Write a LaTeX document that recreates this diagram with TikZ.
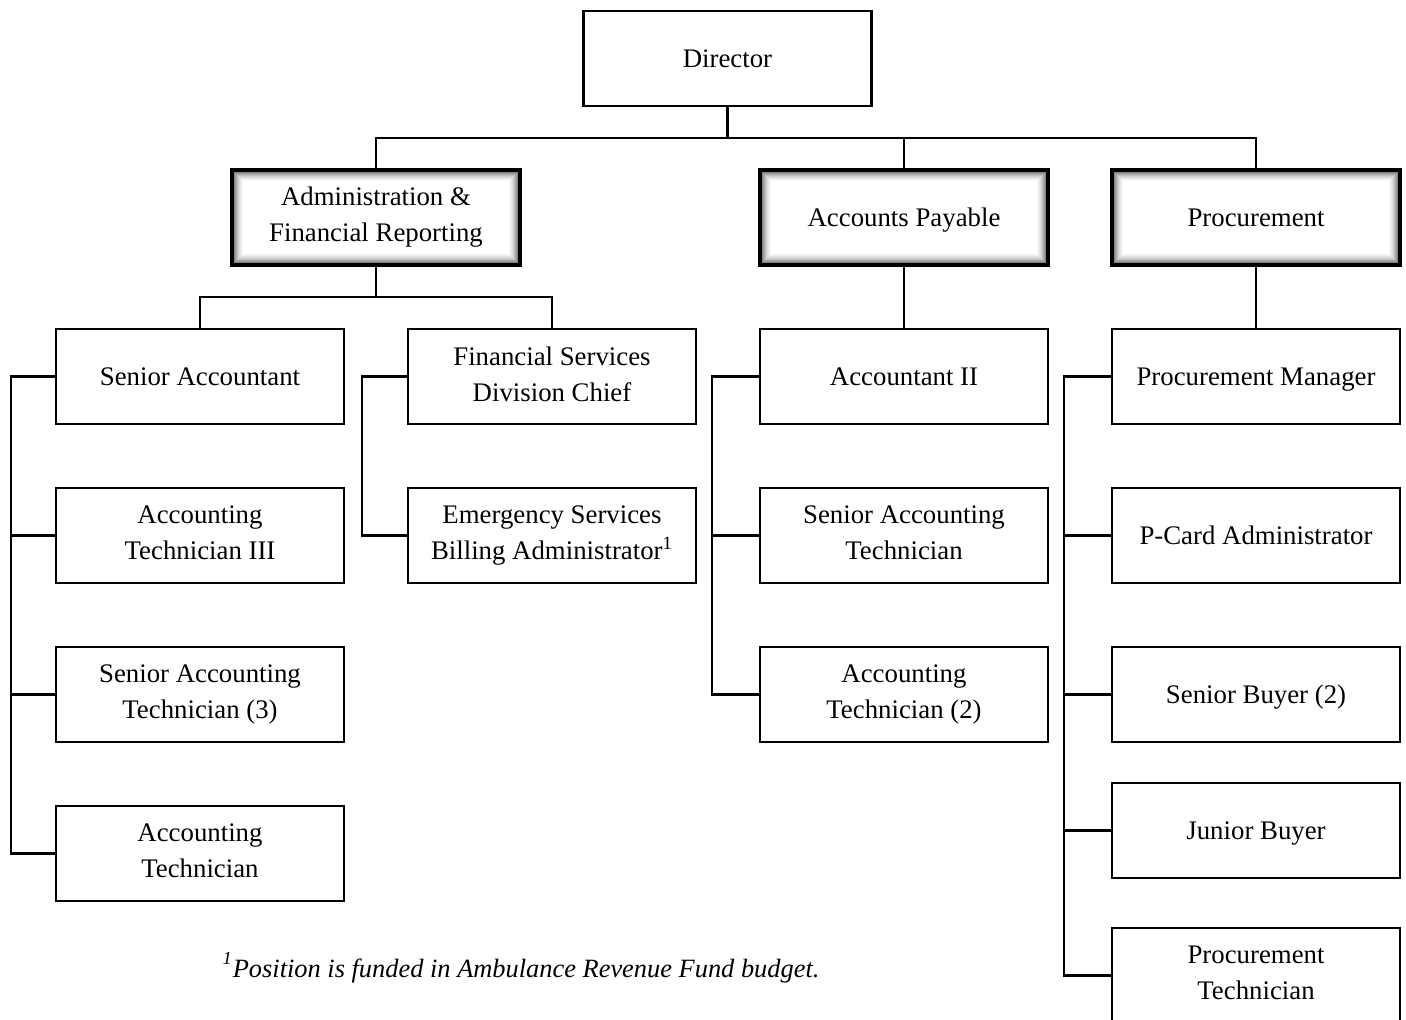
\documentclass[tikz,border=0pt]{standalone}
\usepackage{fontspec}
\setmainfont{Liberation Serif}
\usetikzlibrary{positioning,calc}

\tikzset{
    post/.style={draw, line width=1.4pt, fill=white, align=center,
        minimum width=144pt, minimum height=47.5pt, inner sep=2pt,
        font=\fontsize{13.4}{18}\selectfont,
        execute at begin node={\rule{0pt}{11.5pt}},
        execute at end node={\rule[-2.5pt]{0pt}{2.5pt}}},
    unit/.style={post, line width=1.9pt,
        path picture={
            \foreach \ins/\gv in {0.3/72,0.8/60,1.3/49,1.8/40,2.3/32,2.8/25,3.3/19,3.8/14,4.3/10,4.8/6,5.3/3}
                \draw[black!\gv, line width=0.55pt]
                    ([xshift=\ins pt,yshift=-\ins pt]path picture bounding box.north west) rectangle
                    ([xshift=-\ins pt,yshift=\ins pt]path picture bounding box.south east);
        }},
    link/.style={line width=1.4pt},
}

\begin{document}
\begin{tikzpicture}[x=0.5pt, y=-0.5pt]
    \clip (0,0) rectangle (1406,1019);
    % top
    \node[post] (dir) at (727.5,58.5) {Director};
    \node[unit] (admin) at (376,217.5) {Administration \&\\Financial Reporting};
    \node[unit] (ap) at (904,217.5) {Accounts Payable};
    \node[unit] (proc) at (1256,217.5) {Procurement};
    \coordinate (bus1) at (727.5,138);
    \draw[link] (dir.south) -- (bus1);
    \draw[link] (admin.north) |- (bus1) -| (proc.north);
    \draw[link] (ap.north) -- (ap.north |- bus1);
    % administration
    \node[post] (sracct) at (200,376.5) {Senior Accountant};
    \node[post] (fschief) at (552,376.5) {Financial Services\\Division Chief};
    \node[post] (tech3) at (200,535.5) {Accounting\\Technician III};
    \node[post] (esba) at (552,535.5) {Emergency Services\\Billing Administrator\textsuperscript{1}};
    \node[post] (srtech3) at (200,694.5) {Senior Accounting\\Technician (3)};
    \node[post] (tech) at (200,853.5) {Accounting\\Technician};
    \coordinate (bus2) at (376,297);
    \draw[link] (admin.south) -- (bus2);
    \draw[link] (sracct.north) |- (bus2) -| (fschief.north);
    \coordinate (spineA) at (11,376.5);
    \draw[link] (sracct.west) -- (spineA) |- (tech.west);
    \draw[link] (spineA) |- (tech3.west);
    \draw[link] (spineA) |- (srtech3.west);
    \coordinate (spineB) at (362,376.5);
    \draw[link] (fschief.west) -- (spineB) |- (esba.west);
    % accounts payable
    \node[post] (acct2) at (904,376.5) {Accountant II};
    \node[post] (srtech) at (904,535.5) {Senior Accounting\\Technician};
    \node[post] (tech2) at (904,694.5) {Accounting\\Technician (2)};
    \draw[link] (ap.south) -- (acct2.north);
    \coordinate (spineC) at (712,376.5);
    \draw[link] (acct2.west) -- (spineC) |- (tech2.west);
    \draw[link] (spineC) |- (srtech.west);
    % procurement
    \node[post] (pmgr) at (1256,376.5) {Procurement Manager};
    \node[post] (pcard) at (1256,535.5) {P-Card Administrator};
    \node[post] (srbuy) at (1256,694.5) {Senior Buyer (2)};
    \node[post] (jrbuy) at (1256,830.5) {Junior Buyer};
    \node[post] (ptech) at (1256,975.5) {Procurement\\Technician};
    \draw[link] (proc.south) -- (pmgr.north);
    \coordinate (spineD) at (1064,376.5);
    \draw[link] (pmgr.west) -- (spineD) |- (ptech.west);
    \draw[link] (spineD) |- (pcard.west);
    \draw[link] (spineD) |- (srbuy.west);
    \draw[link] (spineD) |- (jrbuy.west);
    % footnote
    \node[font=\fontsize{13.2}{18}\selectfont\itshape] (note) at (521,968)
        {\raisebox{2pt}{\textsuperscript{1}}Position is funded in Ambulance Revenue Fund budget.};
\end{tikzpicture}
\end{document}
